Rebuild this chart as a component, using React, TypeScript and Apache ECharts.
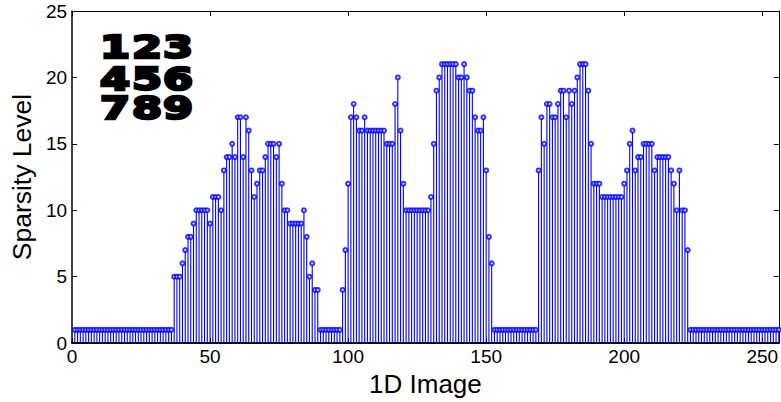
import React, { useEffect, useRef } from "react";
import * as echarts from "echarts";

// x positions of the 1D image samples (1..256)
const sampleCount = 256;
const positions: number[] = Array.from({ length: sampleCount }, (_, i) => i + 1);

// sparsity level of every sample
const flatStart: number[] = Array(36).fill(1);
const hump1: number[] = [
  5, 5, 5, 6, 7, 8, 8, 9, 10, 10, 10, 10, 10, 9, 11, 11, 11, 10, 13, 14, 14, 15, 14, 17, 17, 14, 17,
  16, 13, 11, 12, 13, 13, 14, 15, 15, 15, 14, 15, 12, 10, 10, 9, 9, 9, 9, 9, 10, 8, 5, 6, 4, 4,
];
const flatGap1: number[] = Array(8).fill(1);
const hump2: number[] = [
  4, 7, 12, 17, 18, 17, 16, 16, 17, 16, 16, 16, 16, 16, 16, 16, 15, 15, 15, 18, 20, 16, 12, 10, 10,
  10, 10, 10, 10, 10, 10, 10, 11, 15, 19, 20, 21, 21, 21, 21, 21, 21, 20, 20, 21, 20, 19, 19, 17, 16,
  16, 17, 13, 8, 6,
];
const flatGap2: number[] = Array(16).fill(1);
const hump3: number[] = [
  13, 17, 15, 18, 18, 17, 17, 18, 19, 19, 17, 19, 18, 19, 20, 21, 21, 21, 19, 15, 12, 12, 12, 11, 11,
  11, 11, 11, 11, 11, 11, 12, 13, 15, 16, 13, 14, 14, 15, 15, 15, 15, 13, 14, 14, 14, 14, 14, 13, 12,
  10, 13, 10, 10, 7,
];
const flatEnd: number[] = Array(33).fill(1);
const sparsity: number[] = [...flatStart, ...hump1, ...flatGap1, ...hump2, ...flatGap2, ...hump3, ...flatEnd];

const xTicks = { min: 0, max: 256, interval: 50 };
const yTicks = { min: 0, max: 25, interval: 5 };

const digitRows: string[][] = [
  ["1", "2", "3"],
  ["4", "5", "6"],
  ["7", "8", "9"],
];

const STEM = "#0000ff";
const FONT = "'Liberation Sans', Arial, Helvetica, sans-serif";

export default function App() {
  const ref = useRef<HTMLDivElement>(null);

  useEffect(() => {
    document.body.style.margin = "0";
    if (!ref.current) return;
    const chart = echarts.init(ref.current, undefined, { renderer: "svg" });

    const points = positions.map((x, i) => [x, sparsity[i]]);

    const colX = [115, 147, 178];
    const rowY = [47, 79, 108];
    const digits: any[] = [];
    digitRows.forEach((row, r) =>
      row.forEach((d, c) => {
        digits.push({
          type: "text",
          x: colX[c],
          y: rowY[r],
          scaleX: 1.35,
          z: 100,
          style: {
            text: d,
            fontFamily: "'DejaVu Sans', sans-serif",
            fontWeight: "bold",
            fontSize: 32,
            fill: "#000",
            stroke: "#000",
            lineWidth: 2.5,
            align: "center",
            verticalAlign: "middle",
          },
        });
      })
    );

    const axisLabelStyle = { color: "#000", fontSize: 19, fontFamily: FONT };

    chart.setOption({
      animation: false,
      backgroundColor: "#fff",
      grid: { left: 68, right: 1, top: 11, bottom: 55, show: false },
      xAxis: [
        {
          type: "value",
          position: "bottom",
          ...xTicks,
          axisLine: { show: true, onZero: false, lineStyle: { color: "#000", width: 2 } },
          axisTick: { show: true, inside: true, length: 5, lineStyle: { color: "#000" } },
          axisLabel: { ...axisLabelStyle, margin: 4, showMaxLabel: false },
          splitLine: { show: false },
          name: "1D Image",
          nameLocation: "middle",
          nameGap: 24,
          nameTextStyle: { color: "#000", fontSize: 26, fontFamily: FONT },
        },
        {
          type: "value",
          position: "top",
          ...xTicks,
          axisLine: { show: true, onZero: false, lineStyle: { color: "#000", width: 1 } },
          axisTick: { show: true, inside: true, length: 5, lineStyle: { color: "#000" } },
          axisLabel: { show: false },
          splitLine: { show: false },
        },
      ],
      yAxis: [
        {
          type: "value",
          position: "left",
          ...yTicks,
          axisLine: { show: true, onZero: false, lineStyle: { color: "#000", width: 1.5 } },
          axisTick: { show: true, inside: true, length: 5, lineStyle: { color: "#000" } },
          axisLabel: { ...axisLabelStyle, margin: 5 },
          splitLine: { show: false },
          name: "Sparsity Level",
          nameLocation: "middle",
          nameGap: 36,
          nameTextStyle: { color: "#000", fontSize: 26.5, fontFamily: FONT },
        },
        {
          type: "value",
          position: "right",
          ...yTicks,
          axisLine: { show: true, onZero: false, lineStyle: { color: "#000", width: 1 } },
          axisTick: { show: true, inside: true, length: 5, lineStyle: { color: "#000" } },
          axisLabel: { show: false },
          splitLine: { show: false },
        },
      ],
      series: [
        {
          type: "custom",
          xAxisIndex: 0,
          yAxisIndex: 0,
          data: points,
          renderItem: (params: any, api: any) => {
            const x = api.value(0);
            const y = api.value(1);
            const top = api.coord([x, y]);
            const base = api.coord([x, 0]);
            return {
              type: "line",
              shape: { x1: top[0], y1: top[1], x2: base[0], y2: base[1] },
              style: { stroke: STEM, lineWidth: 1.1 },
            };
          },
          z: 2,
        },
        {
          type: "scatter",
          xAxisIndex: 0,
          yAxisIndex: 0,
          data: points,
          symbol: "emptyCircle",
          symbolSize: 4,
          itemStyle: { color: STEM, borderColor: STEM, borderWidth: 1.2 },
          z: 3,
        },
      ],
      graphic: digits,
    });

    return () => chart.dispose();
  }, []);

  return <div ref={ref} style={{ width: 781, height: 402 }} />;
}
